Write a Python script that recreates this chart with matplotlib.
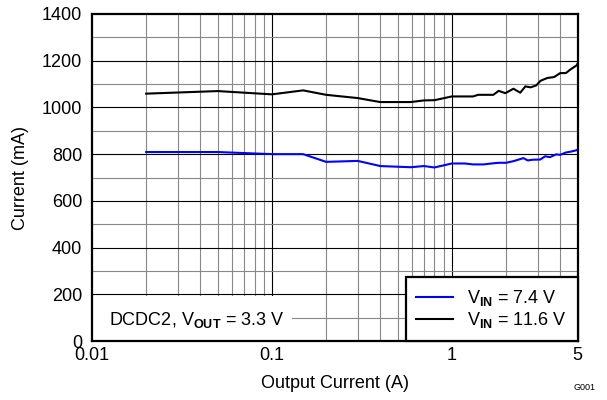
import numpy as np
import matplotlib.pyplot as plt
from matplotlib.patches import Rectangle

plt.rcParams['font.family'] = ['Liberation Sans', 'DejaVu Sans']
plt.rcParams['mathtext.fontset'] = 'custom'
plt.rcParams['mathtext.rm'] = 'Liberation Sans'
plt.rcParams['mathtext.it'] = 'Liberation Sans:italic'
plt.rcParams['mathtext.bf'] = 'Liberation Sans:bold'

# data
i_out_116 = [0.02, 0.05, 0.1, 0.149, 0.2, 0.3, 0.4, 0.59, 0.7, 0.8, 1.0, 1.31, 1.4, 1.7,
             1.82, 1.98, 2.2, 2.4, 2.56, 2.74, 2.94, 3.11, 3.39, 3.7, 4.0, 4.3, 4.59, 4.94, 5.0]
i_in_116 = [1059, 1070, 1056, 1073, 1054, 1040, 1023, 1023, 1030, 1031, 1047, 1047, 1054, 1054,
            1071, 1061, 1080, 1063, 1090, 1086, 1094, 1114, 1126, 1130, 1147, 1147, 1164, 1180, 1188]

i_out_74 = [0.02, 0.05, 0.1, 0.149, 0.2, 0.3, 0.4, 0.59, 0.7, 0.8, 1.0, 1.18, 1.31, 1.5, 1.66,
            1.82, 2.0, 2.2, 2.5, 2.64, 2.8, 3.1, 3.3, 3.5, 3.8, 4.0, 4.3, 4.6, 4.94, 5.0]
i_in_74 = [809, 809, 800, 800, 767, 771, 749, 744, 749, 743, 760, 760, 756, 756, 760,
           763, 763, 770, 783, 773, 776, 777, 791, 787, 799, 797, 807, 811, 817, 819]

fs = 13

fig = plt.figure(figsize=(6.07, 4.0), dpi=100)
ax = fig.add_axes([0.1516, 0.1475, 0.8, 0.8175])

ax.plot(i_out_74, i_in_74, color='#0000ff', lw=1.5, label=r'V$_{\mathbf{IN}}$ = 7.4 V', zorder=3)
ax.plot(i_out_116, i_in_116, color='black', lw=1.5, label=r'V$_{\mathbf{IN}}$ = 11.6 V', zorder=3)

ax.set_xscale('log')
ax.set_xlim(0.01, 5)
ax.set_ylim(0, 1400)
ax.set_xticks([0.01, 0.1, 1, 5])
ax.set_xticklabels(['0.01', '0.1', '1', '5'])
ax.set_xticks([], minor=True)
ax.set_yticks(np.arange(0, 1401, 200))

# grid lines
for v in [0.1, 1]:
    ax.axvline(v, color='black', lw=0.8, zorder=1)
for d in [0.01, 0.1, 1]:
    for m in range(2, 10):
        if d * m < 5:
            ax.axvline(d * m, color='#888888', lw=0.8, zorder=1)
for h in range(100, 1400, 100):
    ax.axhline(h, color='black' if h % 200 == 0 else '#888888', lw=0.8, zorder=1)

ax.tick_params(axis='y', which='both', length=0, labelsize=fs, pad=7)
ax.tick_params(axis='x', which='both', length=0, labelsize=fs, pad=4)
for s in ax.spines.values():
    s.set_linewidth(1.6)
    s.set_zorder(5)

ax.set_xlabel('Output Current (A)', fontsize=fs, labelpad=8)
ax.set_ylabel('Current (mA)', fontsize=fs, labelpad=9)

# white box behind the annotation
ax.add_patch(Rectangle((0, 0), 0.412, 0.138, transform=ax.transAxes,
                       facecolor='white', edgecolor='none', zorder=2))
ax.text(0.034, 0.064, r'DCDC2, V$_{\mathbf{OUT}}$ = 3.3 V', transform=ax.transAxes,
        fontsize=fs, va='center', ha='left', zorder=4)

leg = ax.legend(loc='lower right', borderaxespad=0, fancybox=False, framealpha=1,
                edgecolor='black', fontsize=fs, handlelength=2.0, handletextpad=0.8,
                labelspacing=0.12, borderpad=0.6)
leg.get_frame().set_linewidth(1.6)
leg.set_zorder(6)

fig.text(0.945, 0.025, 'G001', fontsize=6.5, ha='left')

fig.savefig('out.png', dpi=100)
